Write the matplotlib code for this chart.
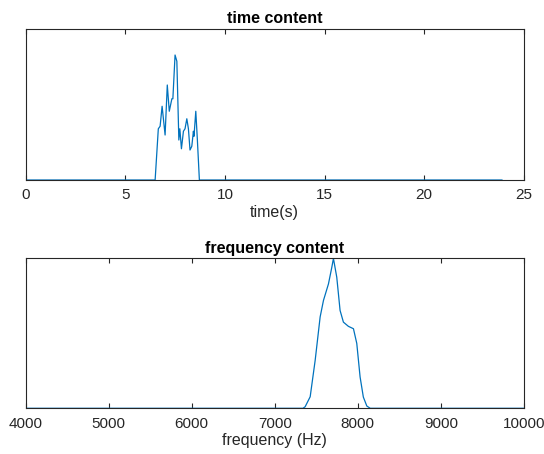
import matplotlib.pyplot as plt

plt.rcParams['font.family'] = ['Liberation Sans', 'DejaVu Sans']

# time content (normalised amplitude)
time_s = [0.0, 6.50, 6.66, 6.75, 6.85, 7.00, 7.11, 7.21, 7.34, 7.39, 7.50, 7.59,
          7.69, 7.74, 7.82, 7.92, 8.00, 8.09, 8.17, 8.25, 8.34, 8.42, 8.45,
          8.54, 8.62, 8.72, 23.9]
time_amp = [0.0, 0.0, 0.41, 0.43, 0.59, 0.36, 0.76, 0.55, 0.65, 0.65, 1.0, 0.95,
            0.32, 0.41, 0.25, 0.39, 0.41, 0.49, 0.41, 0.24, 0.27, 0.39, 0.35,
            0.55, 0.32, 0.0, 0.0]

# frequency content (normalised magnitude)
freq_hz = [4000, 7340, 7366, 7427, 7487, 7547, 7587, 7647, 7687, 7707, 7747, 7787,
           7827, 7887, 7948, 7988, 8028, 8067, 8109, 8150, 10000]
freq_mag = [0.0, 0.0, 0.01, 0.077, 0.32, 0.61, 0.72, 0.83, 0.94, 1.0, 0.875, 0.653,
            0.575, 0.547, 0.531, 0.433, 0.209, 0.075, 0.015, 0.0, 0.0]

line_color = '#0072BD'
axis_color = '#262626'

fig = plt.figure(figsize=(5.44, 4.54), dpi=100)
ax1 = fig.add_axes([0.047, 0.6035, 0.916, 0.3326])
ax2 = fig.add_axes([0.047, 0.1007, 0.916, 0.330])


def style(ax):
    for sp in ax.spines.values():
        sp.set_color(axis_color)
        sp.set_linewidth(0.8)
    ax.tick_params(axis='x', direction='in', top=True, length=3.5, width=0.8,
                   color=axis_color, labelcolor=axis_color, labelsize=11, pad=6)
    ax.set_yticks([])


ax1.plot(time_s, time_amp, color=line_color, linewidth=0.9)
ax1.set_xlim(0, 25)
ax1.set_ylim(0, 1.208)
ax1.set_xticks([0, 5, 10, 15, 20, 25])
ax1.set_title('time content', fontsize=11.5, fontweight='bold', pad=4)
ax1.set_xlabel('time(s)', fontsize=11.5, color=axis_color, labelpad=2)
style(ax1)

ax2.plot(freq_hz, freq_mag, color=line_color, linewidth=0.9)
ax2.set_xlim(4000, 10000)
ax2.set_ylim(0, 1.0)
ax2.set_xticks([4000, 5000, 6000, 7000, 8000, 9000, 10000])
ax2.set_title('frequency content', fontsize=11.5, fontweight='bold', pad=4)
ax2.set_xlabel('frequency (Hz)', fontsize=11.5, color=axis_color, labelpad=2)
style(ax2)

fig.savefig('out.png', dpi=100)
